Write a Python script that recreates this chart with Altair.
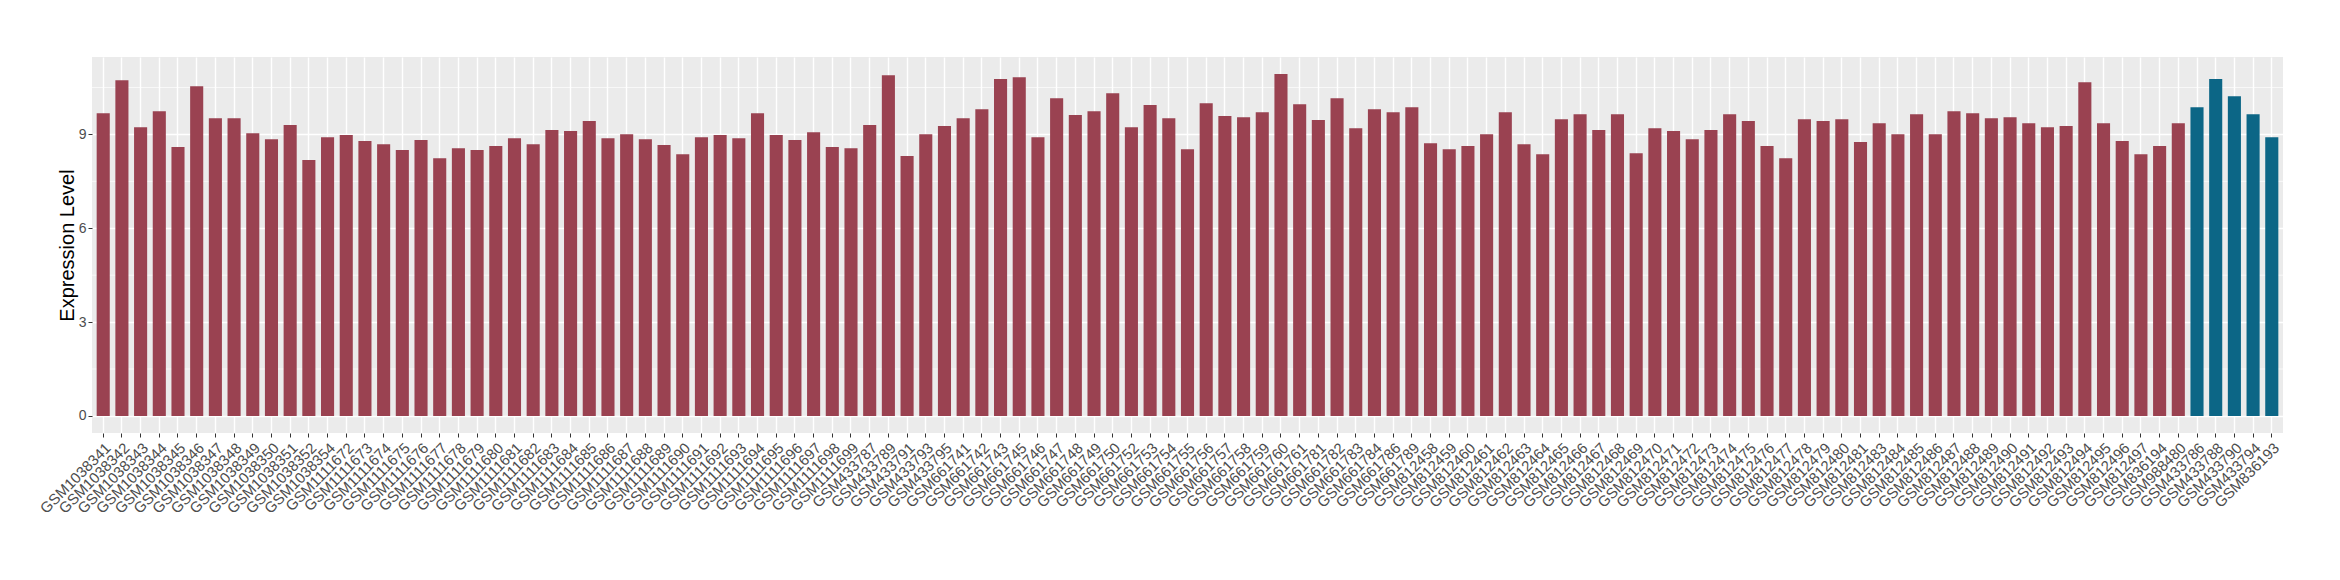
import altair as alt
import pandas as pd

samples = [
    "GSM1038341", "GSM1038342", "GSM1038343", "GSM1038344", "GSM1038345", "GSM1038346",
    "GSM1038347", "GSM1038348", "GSM1038349", "GSM1038350", "GSM1038351", "GSM1038352",
    "GSM1038354",
    "GSM1111672", "GSM1111673", "GSM1111674", "GSM1111675", "GSM1111676", "GSM1111677",
    "GSM1111678", "GSM1111679", "GSM1111680", "GSM1111681", "GSM1111682", "GSM1111683",
    "GSM1111684", "GSM1111685", "GSM1111686", "GSM1111687", "GSM1111688", "GSM1111689",
    "GSM1111690", "GSM1111691", "GSM1111692", "GSM1111693", "GSM1111694", "GSM1111695",
    "GSM1111696", "GSM1111697", "GSM1111698", "GSM1111699",
    "GSM433787", "GSM433789", "GSM433791", "GSM433793", "GSM433795",
    "GSM661741", "GSM661742", "GSM661743", "GSM661745", "GSM661746", "GSM661747",
    "GSM661748", "GSM661749", "GSM661750", "GSM661752", "GSM661753", "GSM661754",
    "GSM661755", "GSM661756", "GSM661757", "GSM661758", "GSM661759", "GSM661760",
    "GSM661761", "GSM661781", "GSM661782", "GSM661783", "GSM661784", "GSM661786",
    "GSM661789",
    "GSM812458", "GSM812459", "GSM812460", "GSM812461", "GSM812462", "GSM812463",
    "GSM812464", "GSM812465", "GSM812466", "GSM812467", "GSM812468", "GSM812469",
    "GSM812470", "GSM812471", "GSM812472", "GSM812473", "GSM812474", "GSM812475",
    "GSM812476", "GSM812477", "GSM812478", "GSM812479", "GSM812480", "GSM812481",
    "GSM812483", "GSM812484", "GSM812485", "GSM812486", "GSM812487", "GSM812488",
    "GSM812489", "GSM812490", "GSM812491", "GSM812492", "GSM812493", "GSM812494",
    "GSM812495", "GSM812496", "GSM812497",
    "GSM836194", "GSM988480",
    "GSM433786", "GSM433788", "GSM433790", "GSM433794", "GSM836193",
]

values = [
    9.68, 10.73, 9.23, 9.74, 8.60, 10.54, 9.52, 9.52, 9.04, 8.85, 9.30, 8.18,
    8.91, 8.98, 8.79, 8.69, 8.50, 8.82, 8.24, 8.56, 8.50, 8.63, 8.88, 8.69,
    9.14, 9.11, 9.43, 8.88, 9.01, 8.85, 8.66, 8.37, 8.91, 8.98, 8.88, 9.68,
    8.98, 8.82, 9.07, 8.60, 8.56, 9.30, 10.89, 8.31, 9.01, 9.27, 9.52,
    9.81, 10.77, 10.83, 8.91, 10.16, 9.62, 9.74, 10.32, 9.23, 9.94, 9.52, 8.53,
    10.00, 9.59, 9.55, 9.71, 10.93, 9.97, 9.46, 10.16, 9.20, 9.81, 9.71, 9.87,
    8.72, 8.53, 8.63, 9.01, 9.71, 8.69, 8.37, 9.49, 9.65, 9.14, 9.65, 8.40,
    9.20, 9.11, 8.85, 9.14, 9.65, 9.43, 8.63, 8.24, 9.49, 9.43, 9.49,
    8.76, 9.36, 9.01, 9.65, 9.01, 9.74, 9.68, 9.52, 9.55, 9.36, 9.23, 9.27,
    10.67, 9.36, 8.79, 8.37, 8.63, 9.36,
    9.87, 10.77, 10.22, 9.65, 8.91,
]

groups = ["Normal"] * 112 + ["Tumor"] * 5
group_names = ["Normal", "Tumor"]
group_colors = ["#9A4251", "#0C6686"]

major_breaks = [0, 3, 6, 9]
minor_breaks = [1.5, 4.5, 7.5, 10.5]

df = pd.DataFrame({"sample": samples, "value": values, "group": groups})
minor_df = pd.DataFrame({"value": minor_breaks})

yscale = alt.Scale(domain=[-0.547, 11.477], nice=False, zero=False)

minor = alt.Chart(minor_df).mark_rule(color="white", strokeWidth=0.7).encode(
    y=alt.Y("value:Q", scale=yscale)
)

bars = alt.Chart(df).mark_bar().encode(
    x=alt.X(
        "sample:N",
        sort=samples,
        scale=alt.Scale(paddingInner=0.3, paddingOuter=0.25),
        axis=alt.Axis(
            title=None,
            labelAngle=-45,
            labelAlign="right",
            labelBaseline="top",
            labelFontSize=15,
            labelColor="#4D4D4D",
            labelPadding=3,
            labelOverlap=False,
            labelLimit=300,
            tickColor="#333333",
            tickSize=4,
            tickWidth=1,
            grid=True,
            gridColor="white",
            gridWidth=1.4,
            domain=False,
        ),
    ),
    y=alt.Y(
        "value:Q",
        scale=yscale,
        axis=alt.Axis(
            values=major_breaks,
            title="Expression Level",
            titleFontSize=20,
            titleFontWeight="normal",
            titleColor="black",
            titleX=-19,
            titleY=188,
            titleAngle=-90,
            titleAlign="center",
            titleBaseline="alphabetic",
            labelFontSize=14,
            labelColor="#4D4D4D",
            labelPadding=2,
            tickColor="#333333",
            tickSize=4,
            tickWidth=1,
            grid=True,
            gridColor="white",
            gridWidth=1.4,
            domain=False,
        ),
    ),
    color=alt.Color(
        "group:N",
        scale=alt.Scale(domain=group_names, range=group_colors),
        legend=None,
    ),
)

chart = (
    alt.layer(minor, bars)
    .properties(
        width=2191,
        height=376,
        autosize=alt.AutoSizeParams(type="none"),
        padding={"left": 84, "top": 49, "right": 40, "bottom": 120},
    )
    .configure(font="Liberation Sans")
    .configure_view(fill="#EBEBEB", strokeWidth=0)
)

chart.save("out.html", embed_options={"renderer": "svg", "actions": False})
